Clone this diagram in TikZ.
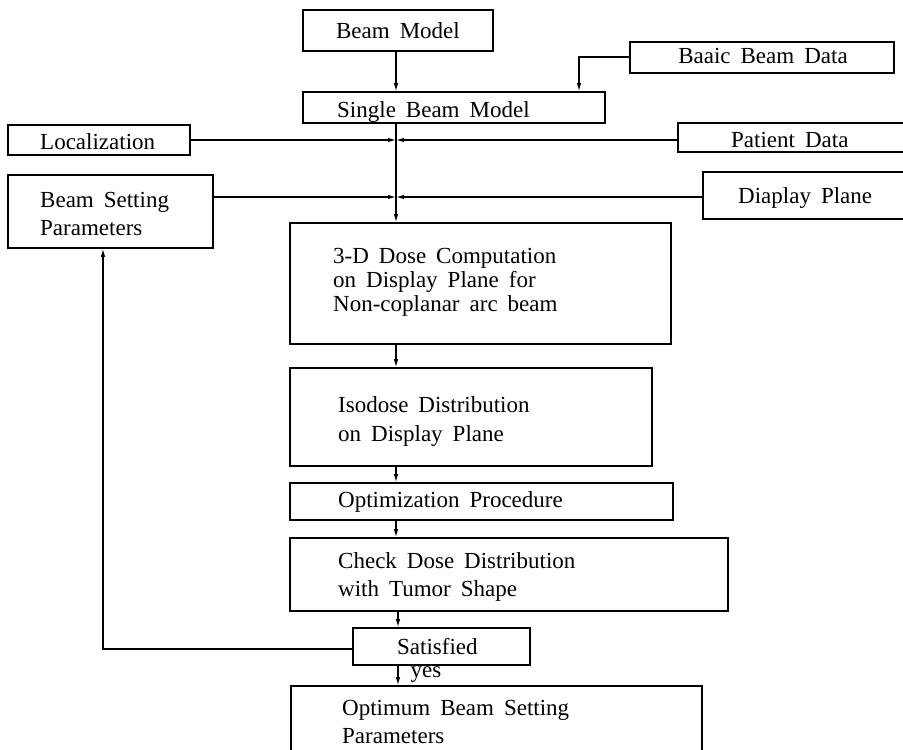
\documentclass[tikz,border=0pt]{standalone}
\usepackage{fontspec}
\setmainfont{Liberation Serif}
\usetikzlibrary{arrows.meta,fit}
\newcommand\myfontA{\fontsize{23}{28}\selectfont\spaceskip 10pt plus 2pt minus 1pt\relax}
\newcommand\myfontB{\fontsize{23}{24}\selectfont\spaceskip 10pt plus 2pt minus 1pt\relax}
\newcommand\myfontC{\fontsize{23}{28.5}\selectfont\spaceskip 10pt plus 2pt minus 1pt\relax}
\begin{document}
\begin{tikzpicture}[x=1pt,y=-1pt,
  box/.style={draw,line width=1.6pt,inner sep=0pt,rectangle},
  txt/.style={inner sep=0pt,align=left,font=\myfontA},
  txtb/.style={inner sep=0pt,align=left,font=\myfontB},
  txtc/.style={inner sep=0pt,align=left,font=\myfontC},
  conn/.style={line width=1.2pt},
  arr/.style={conn,-{Latex[length=8pt,width=4.5pt]}}]
\useasboundingbox (0,0) rectangle (903,750);
\clip (0,0) rectangle (903,750);
% boxes
\node[box,fit={(303,10) (493,51)}] (bm) {};
\node[box,fit={(630,42) (894,73)}] (bbd) {};
\node[box,fit={(303,92) (605,123)}] (sbm) {};
\node[box,fit={(8,125) (190,155)}] (loc) {};
\node[box,fit={(678,123) (915,152)}] (pd) {};
\node[box,fit={(8,175) (213,248)}] (bsp) {};
\node[box,fit={(703,172) (915,219)}] (dp) {};
\node[box,fit={(290,223) (671,344)}] (c3d) {};
\node[box,fit={(290,368) (652,466)}] (iso) {};
\node[box,fit={(290,483) (673,520)}] (opt) {};
\node[box,fit={(290,538) (728,611)}] (chk) {};
\node[box,fit={(353,628) (530,665)}] (sat) {};
\node[box,fit={(291,686) (702,770)}] (obs) {};
% texts
\node[txt,anchor=base] (tbm) at (398,38) {Beam Model};
\node[txt,anchor=base] (tbbd) at (763,63) {Baaic Beam Data};
\node[txt,anchor=base west] (tsbm) at (337,117) {Single Beam Model};
\node[txt,anchor=base west] (tloc) at (40,149) {Localization};
\node[txt,anchor=base west] (tpd) at (731,147) {Patient Data};
\node[txt,anchor=north west] (tbsp) at (40,191.7) {Beam Setting\\Parameters};
\node[txt,anchor=base west] (tdp) at (738,203) {Diaplay Plane};
\node[txtb,anchor=north west] (tc3d) at (333,247.7) {3-D Dose Computation\\on Display Plane for\\Non-coplanar arc beam};
\node[txtc,anchor=north west] (tiso) at (338,396.7) {Isodose Distribution\\on Display Plane};
\node[txt,anchor=base west] (topt) at (338,507) {Optimization Procedure};
\node[txt,anchor=north west] (tchk) at (338,552.7) {Check Dose Distribution\\with Tumor Shape};
\node[txt,anchor=base west] (tsat) at (397,654) {Satisfied};
\node[txt,anchor=north west] (tobs) at (342,699.7) {Optimum Beam Setting\\Parameters};
% coordinates
\coordinate (sp) at (396,0);
\coordinate (sp2) at (398,0);
\coordinate (bbk) at (579,57);
\coordinate (x1) at (396,140);
\coordinate (x2) at (396,197);
\coordinate (fb) at (103,649);
% connectors
\draw[arr] (bm.south -| sp) -- (sbm.north -| sp);
\draw[arr] (bbd.west |- bbk) -- (bbk) -- (bbk |- sbm.north);
\draw[arr] (sbm.south -| sp) -- (c3d.north -| sp);
\draw[arr] (loc.east |- x1) -- (x1);
\draw[arr] (pd.west |- x1) -- (x1);
\draw[arr] (bsp.east |- x2) -- (x2);
\draw[arr] (dp.west |- x2) -- (x2);
\draw[arr] (c3d.south -| sp) -- (iso.north -| sp);
\draw[arr] (iso.south -| sp) -- (opt.north -| sp);
\draw[arr] (opt.south -| sp) -- (chk.north -| sp);
\draw[arr] (chk.south -| sp2) -- (sat.north -| sp2);
\draw[arr] (sat.south -| sp2) -- node[right,inner sep=0pt,xshift=12pt,yshift=1pt,font=\myfontB] (tyes) {yes} (obs.north -| sp2);
\draw[arr] (sat.west |- fb) -- (fb) -- (fb |- bsp.south);
\end{tikzpicture}
\end{document}
